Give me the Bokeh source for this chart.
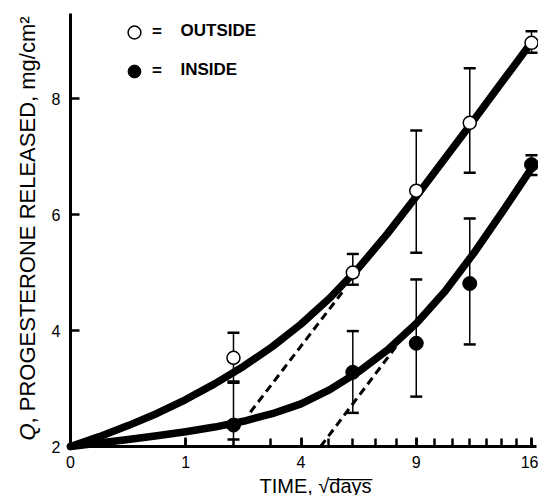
import math
from bokeh.plotting import figure
from bokeh.models import FixedTicker, Label, Legend, LegendItem
from bokeh.embed import file_html
from bokeh.resources import INLINE

# ---- data ----
days = [2, 6, 9, 12, 16]
outside_mean = [3.53, 5.00, 6.41, 7.58, 8.96]
outside_hi = [3.96, 5.32, 7.45, 8.52, 9.16]
outside_lo = [3.10, 4.79, 5.34, 6.72, 8.79]
inside_mean = [2.37, 3.28, 3.78, 4.81, 6.86]
inside_hi = [3.12, 3.99, 4.88, 5.93, 7.02]
inside_lo = [2.12, 2.58, 2.86, 3.76, 6.68]

curve_t = [0, 0.25, 0.5, 0.75, 1.0, 1.25, 1.5, 1.75, 2.0, 2.25, 2.5, 2.75, 3.0, 3.25, 3.5, 3.75, 4.0]
outside_fit = [2.0, 2.17, 2.36, 2.57, 2.81, 3.08, 3.38, 3.72, 4.11, 4.56, 5.08, 5.67, 6.31, 6.97, 7.63, 8.3, 8.97]
inside_fit = [2.0, 2.06, 2.12, 2.185, 2.255, 2.335, 2.435, 2.565, 2.735, 2.98, 3.29, 3.665, 4.12, 4.675, 5.335, 6.055, 6.795]

outside_tan_t = [1.56, 2.37]
outside_tan_q = [2.59, 4.69]
inside_tan_t = [2.17, 2.85]
inside_tan_q = [2.0, 3.79]

tick_days = [0, 1, 4, 9, 16]
tick_labels = ["0", "1", "4", "9", "16"]
minor_days = list(range(1, 17))
y_ticks = [2, 4, 6, 8]

sx = [math.sqrt(d) for d in days]
FONT = "Liberation Sans"

# frame covers the whole canvas; axes are pinned with fixed_location
p = figure(width=538, height=495, x_range=(-0.6074, 4.0607), y_range=(1.1552, 9.6897),
           output_backend="svg", toolbar_location=None,
           min_border_left=0, min_border_right=0, min_border_top=0, min_border_bottom=0,
           background_fill_color="white", border_fill_color="white")
p.outline_line_color = None
p.grid.visible = False

xa = p.xaxis[0]
ya = p.yaxis[0]
xa.fixed_location = 2
ya.fixed_location = 0
xa.bounds = (0, 4.045)
ya.bounds = (2, 9.466)
xa.ticker = FixedTicker(ticks=[math.sqrt(d) for d in tick_days],
                        minor_ticks=[math.sqrt(d) for d in minor_days])
xa.major_label_overrides = {float(math.sqrt(d)): lab for d, lab in zip(tick_days, tick_labels)}
ya.ticker = FixedTicker(ticks=y_ticks)

for ax in (xa, ya):
    ax.axis_line_width = 3
    ax.axis_line_color = "black"
    ax.major_tick_in = 9
    ax.major_tick_out = 0
    ax.major_tick_line_width = 2.5
    ax.major_tick_line_color = "black"
    ax.major_label_text_font = FONT
    ax.major_label_text_font_size = "16px"
    ax.major_label_text_color = "black"
xa.minor_tick_in = 8
xa.minor_tick_out = 0
xa.minor_tick_line_width = 2.5
xa.minor_tick_line_color = "black"
xa.major_label_standoff = 9
ya.minor_tick_line_color = None
ya.major_label_standoff = 10

# fitted curves
p.line(curve_t, outside_fit, line_width=7.5, line_color="black", line_cap="round", line_join="round")
p.line(curve_t, inside_fit, line_width=7.5, line_color="black", line_cap="round", line_join="round")
# tangent lines
p.line(outside_tan_t, outside_tan_q, line_width=3, line_color="black", line_dash="8 5")
p.line(inside_tan_t, inside_tan_q, line_width=3, line_color="black", line_dash="8 5")

# error bars
for hi, lo in ((outside_hi, outside_lo), (inside_hi, inside_lo)):
    p.segment(x0=sx, y0=lo, x1=sx, y1=hi, line_width=1.5, line_color="black")
    p.scatter(sx, hi, marker="dash", size=12, line_width=2.5, line_color="black")
    p.scatter(sx, lo, marker="dash", size=12, line_width=2.5, line_color="black")

r_out = p.scatter(sx, outside_mean, marker="circle", size=13, fill_color="white",
                  line_color="black", line_width=1.5)
r_in = p.scatter(sx, inside_mean, marker="circle", size=14, fill_color="black",
                 line_color="black", line_width=1)

legend = Legend(items=[LegendItem(label="=", renderers=[r_out]),
                       LegendItem(label="=", renderers=[r_in])],
                location=(118, 408), orientation="vertical",
                glyph_width=32, glyph_height=32, spacing=7, padding=0, margin=0,
                label_standoff=2, label_text_font=FONT, label_text_font_style="bold",
                label_text_font_size="17px", label_text_baseline="middle",
                label_text_color="black",
                border_line_color=None, background_fill_alpha=0)
p.add_layout(legend)

# label positions in screen px (from left, from bottom)
for txt, yb in (("OUTSIDE", 465), ("INSIDE", 426)):
    p.add_layout(Label(x=180, y=yb, x_units="screen", y_units="screen", text=txt,
                       text_font=FONT, text_font_style="bold", text_font_size="17px",
                       text_baseline="middle", text_align="left", text_color="black"))

# y-axis title
p.add_layout(Label(x=27, y=55, x_units="screen", y_units="screen", text="Q",
                   angle=math.pi / 2, text_font=FONT, text_font_style="italic",
                   text_font_size="22px", text_baseline="middle", text_align="left",
                   text_color="black"))
p.add_layout(Label(x=27, y=72, x_units="screen", y_units="screen",
                   text=", PROGESTERONE RELEASED, mg/cm\u00b2",
                   angle=math.pi / 2, text_font=FONT, text_font_size="22px",
                   text_baseline="middle", text_align="left", text_color="black"))
# x-axis title
p.add_layout(Label(x=315, y=10, x_units="screen", y_units="screen",
                   text="TIME, \u221ad\u0305a\u0305y\u0305s\u0305",
                   text_font=FONT, text_font_size="20px",
                   text_baseline="middle", text_align="center", text_color="black"))

open("out.html", "w").write(file_html(p, INLINE))
